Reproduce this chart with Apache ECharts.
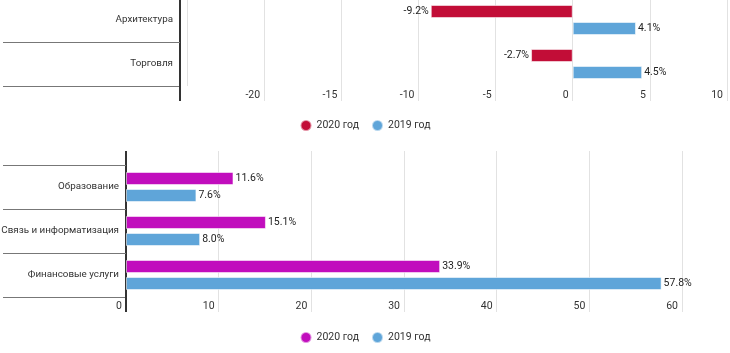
<!DOCTYPE html>
<html>
<head>
<meta charset="UTF-8">
<title>Bars 2020 vs 2019</title>
<script src="https://cdn.jsdelivr.net/npm/echarts@6.0.0/dist/echarts.min.js"></script>
<style>
    body { margin: 0; background: #fff; }
    #top { position: absolute; left: 0; top: 0; width: 730px; height: 146px; }
    #bottom { position: absolute; left: 0; top: 146px; width: 730px; height: 207px; }
</style>
</head>
<body>
<div id="top"></div>
<div id="bottom"></div>
<script>
// data
var legendNames = ['2020 год', '2019 год'];

var topCategories = ['Архитектура', 'Торговля'];
var top2020 = [-9.2, -2.7];
var top2019 = [4.1, 4.5];

var bottomCategories = ['Образование', 'Связь и информатизация', 'Финансовые услуги'];
var bottom2020 = [11.6, 15.1, 33.9];
var bottom2019 = [7.6, 8.0, 57.8];

var FONT = 'Roboto, "Noto Sans", sans-serif';
var FS = 10.5;
var FS_CAT = 9.8;

function barData(values) {
    return values.map(function (v) {
        return { value: v, label: { position: v < 0 ? 'left' : 'right' } };
    });
}

function barSeries(name, values, color) {
    return {
        name: name,
        type: 'bar',
        data: barData(values),
        barWidth: 13,
        barGap: '31%',
        itemStyle: { color: color, borderColor: 'rgba(255,255,255,0.55)', borderWidth: 1 },
        label: {
            show: true,
            distance: 2,
            color: '#222',
            fontFamily: FONT,
            fontSize: FS,
            formatter: function (p) { return p.value.toFixed(1) + '%'; }
        }
    };
}

function buildOption(cfg) {
    var g = cfg.grid;
    var gridBottom = g.top + g.height;
    var axisX = g.left - cfg.yOffset;
    // dark axis line carried past the category bands, like the original
    var graphics = [
        { type: 'line', shape: { x1: axisX, y1: gridBottom, x2: axisX, y2: gridBottom + 15 },
          style: { stroke: '#333', lineWidth: 2 }, z: 10 },
        { type: 'line', shape: { x1: axisX, y1: g.top - 14, x2: axisX, y2: g.top },
          style: { stroke: '#333', lineWidth: 2 }, z: 10 }
    ];
    var xCommon = {
        type: 'value',
        min: cfg.min,
        max: cfg.max,
        interval: cfg.interval,
        axisLine: { show: false }
    };
    return {
        animation: false,
        textStyle: { fontFamily: FONT },
        grid: { left: g.left, top: g.top, width: 730 - g.left - g.right, height: g.height,
                containLabel: false, outerBoundsMode: 'none' },
        legend: {
            data: legendNames,
            top: cfg.legendTop,
            left: 'center',
            icon: 'circle',
            itemWidth: 11,
            itemHeight: 11,
            itemGap: 12,
            textStyle: { fontFamily: FONT, fontSize: FS, color: '#333' }
        },
        xAxis: [
            Object.assign({}, xCommon, {
                position: 'bottom',
                splitLine: { show: true, lineStyle: { color: '#e2e2e2', width: 1 } },
                axisTick: { show: true, length: 15, lineStyle: { color: '#e2e2e2' } },
                axisLabel: {
                    show: true, showMinLabel: cfg.showMin, align: 'right', margin: 4,
                    padding: [0, 4, 0, 0], color: '#333', fontFamily: FONT, fontSize: FS
                }
            }),
            Object.assign({}, xCommon, {
                position: 'top',
                splitLine: { show: false },
                axisTick: { show: true, length: 14, lineStyle: { color: '#e2e2e2' } },
                axisLabel: { show: false }
            })
        ],
        yAxis: {
            type: 'category',
            data: cfg.categories,
            inverse: true,
            offset: cfg.yOffset,
            axisLine: { show: true, onZero: false, lineStyle: { color: '#333', width: 2 } },
            axisTick: { show: true, length: cfg.tickLen, lineStyle: { color: '#777', width: 1 } },
            axisLabel: { margin: 7, padding: [3, 0, 0, 0], color: '#333', fontFamily: FONT, fontSize: FS_CAT },
            splitLine: { show: false }
        },
        graphic: graphics,
        series: [
            barSeries(legendNames[0], cfg.s2020, cfg.c2020),
            barSeries(legendNames[1], cfg.s2019, cfg.c2019)
        ]
    };
}

var topChart = echarts.init(document.getElementById('top'));
topChart.setOption(buildOption({
    grid: { left: 187, right: 3, top: -2, height: 88 },
    yOffset: 7,
    tickLen: 177,
    min: -25, max: 10, interval: 5, showMin: false,
    categories: topCategories,
    s2020: top2020, s2019: top2019,
    c2020: '#c20d37', c2019: '#5fa5d9',
    legendTop: 114
}));

var bottomChart = echarts.init(document.getElementById('bottom'));
bottomChart.setOption(buildOption({
    grid: { left: 126, right: 48, top: 19, height: 132 },
    yOffset: 0,
    tickLen: 123,
    min: 0, max: 60, interval: 10, showMin: true,
    categories: bottomCategories,
    s2020: bottom2020, s2019: bottom2019,
    c2020: '#c10dbd', c2019: '#5fa5d9',
    legendTop: 180
}));
</script>
</body>
</html>
